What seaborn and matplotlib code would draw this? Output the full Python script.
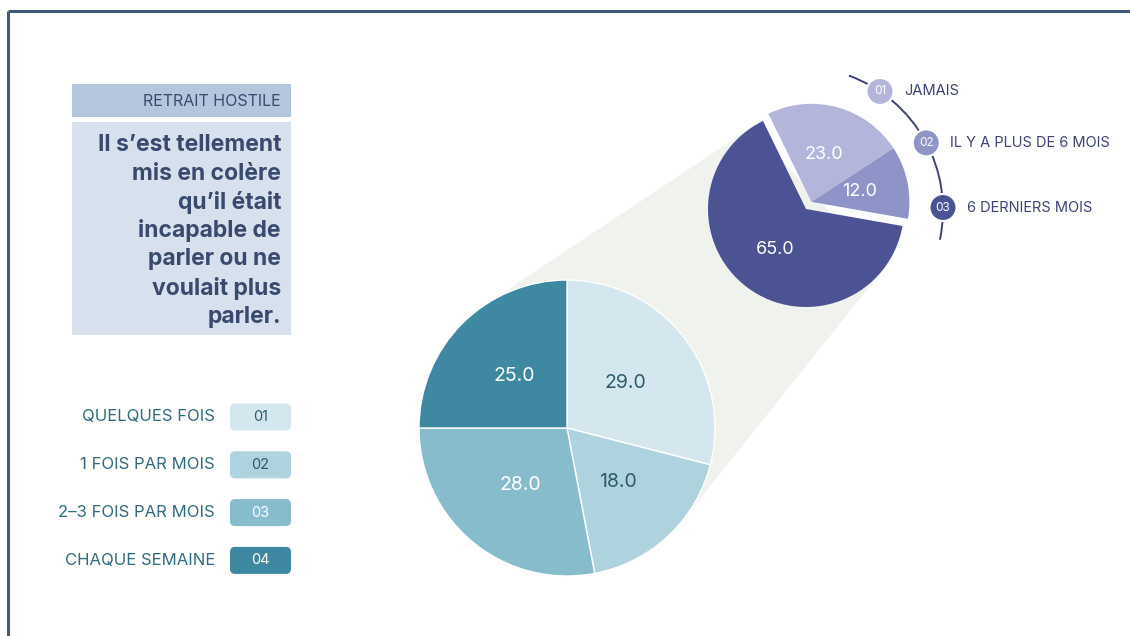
import numpy as np
import matplotlib
matplotlib.use("Agg")
import matplotlib.pyplot as plt
import seaborn as sns
from matplotlib.patches import FancyBboxPatch, Rectangle, Arc, Circle

# ---------------- data ----------------
header_text = "RETRAIT HOSTILE"
question_lines = ["Il s’est tellement", "mis en colère", "qu’il était",
                  "incapable de", "parler ou ne", "voulait plus", "parler."]

main_labels = ["QUELQUES FOIS", "1 FOIS PAR MOIS", "2–3 FOIS PAR MOIS", "CHAQUE SEMAINE"]
main_codes = ["01", "02", "03", "04"]
main_values = [29.0, 18.0, 28.0, 25.0]

sub_labels = ["JAMAIS", "IL Y A PLUS DE 6 MOIS", "6 DERNIERS MOIS"]
sub_codes = ["01", "02", "03"]
sub_values = [23.0, 12.0, 65.0]

# ---------------- style ----------------
sns.set_theme(style="white")
plt.rcParams['font.family'] = ['Inter', 'DejaVu Sans']

main_colors = ["#d4e7ee", "#aed2de", "#87bccd", "#3f88a1"]
main_txt = ["#2e5b6c", "#2e5b6c", "#ffffff", "#ffffff"]
sub_colors = ["#b3b6da", "#8f94c8", "#4b5394"]
navy = "#3d4379"
slate = "#3a4a6e"
teal = "#2f6b80"

W, H = 1130, 636
fig = plt.figure(figsize=(W / 100, H / 100), dpi=100)
ax = fig.add_axes([0, 0, 1, 1])

def Y(y):
    return H - y

# geometry
c1 = np.array([567.0, Y(428)]); r1 = 148.0
c2 = np.array([806.0, Y(209)]); r2 = 98.0

# connector band (external tangents)
d = c2 - c1
dist = np.hypot(*d)
th = np.arctan2(d[1], d[0])
phi = np.arccos((r1 - r2) / dist)
pts = []
for s in (1, -1):
    a = th + s * phi
    pts.append((c1 + r1 * np.array([np.cos(a), np.sin(a)]),
                c2 + r2 * np.array([np.cos(a), np.sin(a)])))
poly = np.array([pts[0][0], pts[0][1], pts[1][1], pts[1][0]])
ax.fill(poly[:, 0], poly[:, 1], color="#f0f2ee", zorder=0, lw=0)

# main pie
wedges, texts, autotexts = ax.pie(
    main_values, colors=main_colors, startangle=90, counterclock=False,
    radius=r1, center=tuple(c1), autopct='%.1f', pctdistance=0.5,
    wedgeprops=dict(edgecolor="white", linewidth=1.0),
    textprops=dict(fontsize=14))
for t, col in zip(autotexts, main_txt):
    t.set_color(col)
for w in wedges:
    w.set_zorder(2)
for t in autotexts:
    t.set_zorder(3)

# secondary pie: dark slice in place, two small slices pulled out together
start2 = 116
mid_group = np.deg2rad(start2 - 360 * (sub_values[0] + sub_values[1]) / 200.0)
off = 9.0 * np.array([np.cos(mid_group), np.sin(mid_group)])

wA, _, atA = ax.pie(sub_values, colors=sub_colors, startangle=start2, counterclock=False,
                    radius=r2, center=tuple(c2), autopct='%.1f', pctdistance=0.52,
                    wedgeprops=dict(linewidth=0), textprops=dict(fontsize=13, color="white"))
wB, _, atB = ax.pie(sub_values, colors=sub_colors, startangle=start2, counterclock=False,
                    radius=r2, center=tuple(c2 + off), autopct='%.1f', pctdistance=0.5,
                    wedgeprops=dict(linewidth=0), textprops=dict(fontsize=13, color="white"))
for i in range(3):
    keepA = (i == 2)
    wA[i].set_visible(keepA); atA[i].set_visible(keepA)
    wB[i].set_visible(not keepA); atB[i].set_visible(not keepA)
    for w in (wA[i], wB[i]):
        w.set_zorder(2)
    for t in (atA[i], atB[i]):
        t.set_zorder(3)

# arc legend for secondary pie
ac = np.array([800.0, Y(210)]); ar = 143.0
ax.add_patch(Arc(tuple(ac), 2 * ar, 2 * ar, theta1=-12, theta2=70, color=navy, lw=1.4, zorder=2))
for ang, code, lab, col in zip([56, 28, 1], sub_codes, sub_labels, sub_colors):
    p = ac + ar * np.array([np.cos(np.deg2rad(ang)), np.sin(np.deg2rad(ang))])
    ax.add_patch(Circle(tuple(p), 13.5, facecolor=col, edgecolor="white", lw=1.5, zorder=3))
    ax.text(p[0], p[1], code, ha="center", va="center", color="white", fontsize=8.5, zorder=4)
    ax.text(p[0] + 24, p[1], lab, ha="left", va="center", color=navy, fontsize=10.5, zorder=4)

# header and question boxes
ax.add_patch(Rectangle((72, Y(117)), 219, 33, facecolor="#b4c6de", lw=0, zorder=1))
ax.text(281, Y(101), header_text, ha="right", va="center", color=slate, fontsize=11.5)
ax.add_patch(Rectangle((72, Y(335)), 219, 213, facecolor="#d7e1ee", lw=0, zorder=1))
for i, line in enumerate(question_lines):
    ax.text(281, Y(145 + i * 28.6), line, ha="right", va="center", color=slate,
            fontsize=16.5, fontweight="bold", zorder=2)

# legend for main pie
for i, (lab, code, col) in enumerate(zip(main_labels, main_codes, main_colors)):
    yc = Y(417 + i * 47.8)
    ax.add_patch(FancyBboxPatch((230, yc - 13.5), 61, 27,
                                boxstyle="round,pad=0,rounding_size=5",
                                facecolor=col, lw=0, zorder=1))
    ax.text(260.5, yc, code, ha="center", va="center", color=main_txt[i], fontsize=10.5, zorder=2)
    ax.text(215, yc, lab, ha="right", va="center", color=teal, fontsize=12, zorder=2)

# frame lines (top and left)
ax.plot([8, 8], [0, Y(11)], color="#3f5a7d", lw=2.2, solid_capstyle="butt", zorder=5)
ax.plot([8, W], [Y(11), Y(11)], color="#3f5a7d", lw=2.2, solid_capstyle="butt", zorder=5)

ax.set_xlim(0, W)
ax.set_ylim(0, H)
ax.set_aspect("equal")
ax.axis("off")

fig.savefig("out.png", dpi=100, facecolor="white")
